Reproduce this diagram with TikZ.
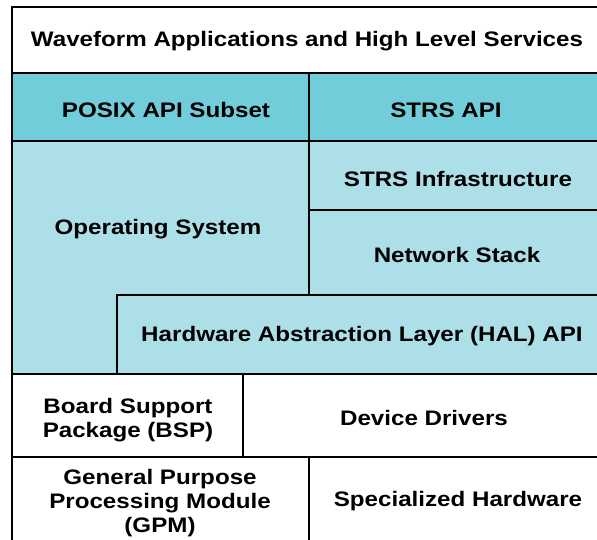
\documentclass[tikz,border=0pt]{standalone}
\usepackage{fontspec}
\setmainfont{Liberation Sans}[FakeStretch=1.15]
\usetikzlibrary{positioning}
\definecolor{colApi}{RGB}{114,205,219}
\definecolor{colSys}{RGB}{173,223,232}

\begin{document}
\begin{tikzpicture}[x=1pt, y=-1pt, line width=1.4pt,
    every node/.style={font=\bfseries\fontsize{21}{24}\selectfont, align=center}]
    \useasboundingbox (0,0) rectangle (597,540);
    \clip (0,0) rectangle (597,540);

    % Applications
    \draw[fill=white] (12,7) rectangle (610,73);
    \node (wave) at (307,41) {Waveform Applications and High Level Services};

    % APIs
    \draw[fill=colApi] (12,73) rectangle (309,141);
    \draw[fill=colApi] (309,73) rectangle (610,141);
    \node (posix) at (166,110) {POSIX API Subset};
    \node (strsapi) at (446,110) {STRS API};

    % Operating system (L shape)
    \draw[fill=colSys] (12,141) -- (309,141) -- (309,295) -- (117,295)
        -- (117,374) -- (12,374) -- cycle;
    \node (os) at (158,229) {Operating System};

    % STRS infrastructure and network stack
    \draw[fill=colSys] (309,141) rectangle (610,210);
    \draw[fill=colSys] (309,210) rectangle (610,295);
    \node (infra) at (458,179) {STRS Infrastructure};
    \node (net) at (457,255) {Network Stack};

    % HAL
    \draw[fill=colSys] (117,295) rectangle (610,374);
    \node (hal) at (362,336) {Hardware Abstraction Layer (HAL) API};

    % BSP and drivers
    \draw[fill=white] (12,374) rectangle (243,457);
    \draw[fill=white] (243,374) rectangle (610,457);
    \node (bsp) at (128,420) {Board Support\\Package (BSP)};
    \node (drv) at (424,418) {Device Drivers};

    % Hardware
    \draw[fill=white] (12,457) rectangle (309,550);
    \draw[fill=white] (309,457) rectangle (610,550);
    \node (gpm) at (160,503) {General Purpose\\Processing Module\\(GPM)};
    \node (spec) at (458,501) {Specialized Hardware};

    % thicker outer left edge
    \draw[line width=2.6pt] (12,7) -- (12,550);
\end{tikzpicture}
\end{document}
